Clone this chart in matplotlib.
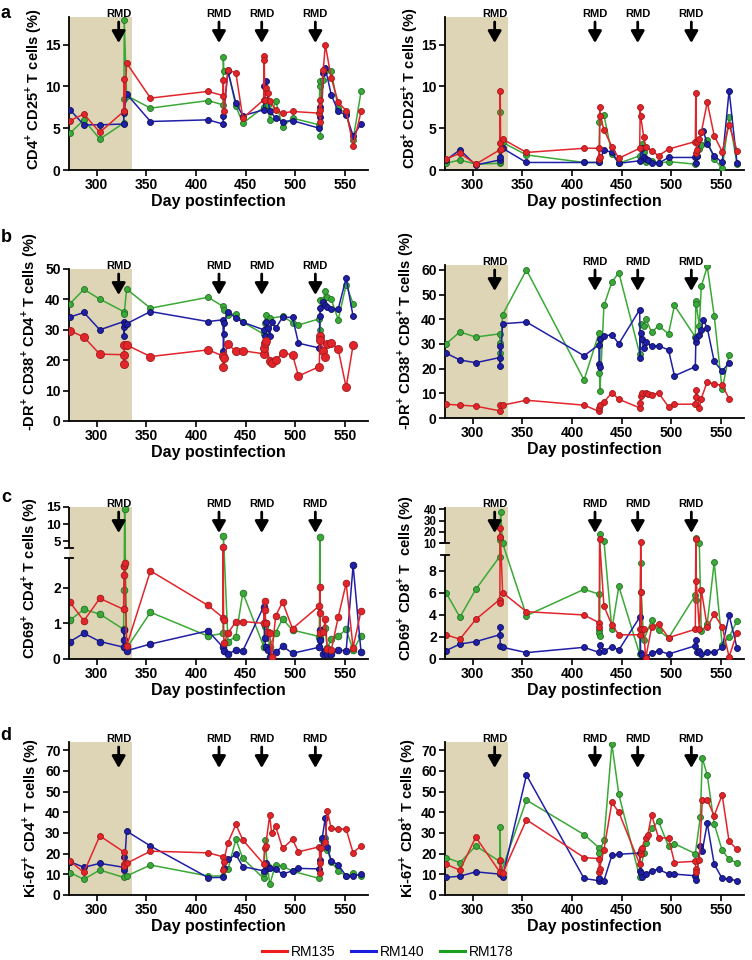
import numpy as np
import matplotlib
matplotlib.use('Agg')
import matplotlib.pyplot as plt
from matplotlib.lines import Line2D
from matplotlib.transforms import offset_copy

plt.rcParams['font.family'] = ['Liberation Sans', 'DejaVu Sans']
plt.rcParams['mathtext.fontset'] = 'custom'
plt.rcParams['mathtext.rm'] = 'Liberation Sans'
plt.rcParams['mathtext.bf'] = 'Liberation Sans:bold'

# ---------------- data (day postinfection, %) ----------------
animals = ['RM135', 'RM140', 'RM178']
rmd_days = [322, 423, 466, 520]
shade_days = (272, 335)
x_ticks = [300, 350, 400, 450, 500, 550]

a_cd4_rm135 = [(273,5.9),(287,6.7),(303,4.5),(327,7.0),(327.4,10.9),(327.8,7.1),(330,12.8),(354,8.6),(412,9.4),
               (427,8.9),(427.4,10.8),(427.8,7.0),(432,12.0),(440,11.6),(447,6.2),(468,8.4),(468.3,13.6),(468.6,13.1),
               (469,8.4),(470,9.8),(472,9.2),(474,8.3),(480,7.2),(487,6.8),(497,7.0),(524,6.8),(524.3,8.4),(524.6,7.2),
               (525,5.8),(528,12.0),(530,15.0),(536,11.0),(543,8.1),(551,7.1),(558,2.9),(566,7.0)]
a_cd4_rm140 = [(273,7.2),(287,5.4),(303,5.4),(327,5.5),(327.4,6.8),(330,9.1),(354,5.8),(412,6.0),(427,5.5),(427.5,6.5),
               (432,11.8),(440,8.0),(447,6.5),(468,7.2),(468.5,10.0),(470,10.6),(474,7.1),(480,6.2),(487,5.8),(497,5.9),
               (524,5.0),(524.5,7.5),(525,6.3),(528,11.6),(530,12.2),(536,9.0),(543,7.0),(551,6.6),(558,4.1),(566,5.5)]
a_cd4_rm178 = [(273,4.4),(287,6.0),(303,3.7),(327,5.6),(327.3,8.5),(327.6,18.0),(330,8.9),(354,7.4),(412,8.3),(427,7.8),
               (427.4,13.5),(427.8,11.8),(432,12.0),(440,7.6),(447,5.6),(468,7.5),(470,8.4),(472,7.8),(474,6.0),(480,8.3),
               (487,5.2),(497,6.2),(524,5.4),(524.3,10.0),(524.6,10.7),(525,4.1),(528,10.8),(530,11.8),(536,11.8),
               (543,7.4),(551,6.8),(558,3.6),(566,9.4)]

a_cd8_rm135 = [(273,1.3),(287,2.0),(303,0.7),(327,2.4),(327.3,3.2),(327.6,9.5),(328,2.5),(330,3.7),(354,2.1),(412,2.6),
               (427,2.6),(427.3,1.3),(427.6,1.6),(428,7.5),(428.5,6.4),(432,4.8),(440,2.8),(447,1.4),(468,2.6),(468.5,7.5),
               (469,6.4),(472,4.0),(474,2.8),(480,2.3),(487,1.7),(497,2.5),(524,3.4),(524.5,9.2),(525,2.0),(525.5,2.4),
               (526,3.4),(528,3.7),(530,4.5),(536,8.1),(543,4.1),(551,2.2),(558,5.4),(566,2.3)]
a_cd8_rm140 = [(273,1.2),(287,2.4),(303,0.6),(327,1.2),(327.5,1.5),(330,2.6),(354,0.9),(412,0.9),(427,0.9),(432,2.4),
               (440,2.1),(447,0.8),(468,1.1),(470,2.6),(472,1.5),(474,1.3),(476,1.2),(480,0.8),(487,0.8),(497,1.5),
               (524,1.5),(524.5,0.8),(526,1.7),(530,4.5),(532,4.7),(536,3.1),(543,1.7),(551,0.9),(558,9.5),(566,0.8)]
a_cd8_rm178 = [(273,0.8),(287,1.2),(303,0.7),(327,0.8),(327.3,6.9),(327.6,0.9),(330,3.3),(354,1.8),(412,0.9),(427,0.9),
               (427.5,5.7),(432,6.6),(440,1.9),(447,0.8),(468,1.7),(470,3.1),(472,2.2),(474,1.0),(480,1.1),(487,0.8),
               (497,1.0),(524,0.7),(526,1.7),(528,2.5),(530,3.0),(536,3.6),(543,1.3),(551,0.2),(558,6.3),(566,0.7)]

b_cd4_rm135 = [(273,29.7),(287,27.6),(303,22.0),(327,21.8),(327.3,18.7),(327.6,25.0),(330,25.0),(354,21.2),(412,23.4),
               (427,21.4),(427.5,17.6),(428,20.7),(432,25.3),(440,22.9),(447,23.1),(468,22.1),(468.5,24.0),(469,25.8),
               (470,26.2),(474,19.9),(476,19.2),(480,20.1),(487,22.3),(497,21.8),(503,14.8),(524,17.9),(524.5,27.8),
               (525,26.7),(528,23.1),(530,21.0),(532,25.4),(536,25.8),(543,23.6),(551,11.1),(558,25.0)]
b_cd4_rm140 = [(273,34.2),(287,35.7),(303,30.0),(327,32.7),(327.3,30.9),(327.6,28.1),(328,32.0),(330,32.0),(354,36.0),
               (412,32.7),(427,33.3),(427.5,23.0),(428,28.5),(428.3,32.3),(432,36.0),(440,33.8),(447,32.5),(468,30.0),
               (469,28.0),(470,32.7),(472,30.5),(474,28.0),(476,32.7),(480,30.5),(487,34.1),(497,34.1),(503,25.6),
               (524,24.0),(524.5,34.4),(525,37.1),(528,39.1),(530,38.2),(532,37.5),(536,36.8),(543,36.8),(551,47.0),
               (558,34.4)]
b_cd4_rm178 = [(273,38.6),(287,43.3),(303,40.1),(327,36.0),(327.5,35.1),(330,43.4),(354,37.1),(412,40.7),(427,37.7),
               (428,36.5),(432,35.0),(440,35.3),(447,32.5),(468,28.6),(469,32.2),(470,35.0),(474,33.8),(487,34.4),
               (497,32.4),(503,31.6),(524,33.6),(524.5,30.0),(525,39.7),(528,39.9),(530,42.9),(532,40.7),(536,40.1),
               (543,33.3),(551,44.8),(558,38.6)]

b_cd8_rm135 = [(273,5.6),(287,5.2),(303,4.8),(327,2.9),(327.5,5.2),(330,5.2),(354,7.2),(412,5.2),(427,2.7),(427.5,4.2),
               (428,5.2),(432,6.5),(440,10.2),(447,7.6),(468,4.1),(468.5,6.1),(469,9.0),(470,10.2),(474,10.3),(476,9.7),
               (480,9.3),(487,10.2),(497,4.5),(503,5.6),(524,5.6),(524.5,8.6),(525,11.3),(528,4.1),(530,7.9),(536,14.7),
               (543,13.7),(551,13.3),(558,7.9)]
b_cd8_rm140 = [(273,26.3),(287,23.5),(303,22.4),(327,24.5),(327.3,29.0),(327.6,21.2),(330,38.2),(354,38.9),(412,25.2),
               (427,29.7),(427.3,21.9),(427.6,20.8),(428,32.1),(432,33.3),(440,33.7),(447,30.1),(468,43.9),(468.5,24.5),
               (469,34.4),(470,32.0),(472,28.3),(474,31.0),(480,29.0),(487,29.3),(497,27.6),(503,17.1),(524,20.8),
               (524.5,30.7),(525,32.4),(528,33.7),(530,35.8),(532,39.9),(536,36.5),(543,22.9),(551,19.0),(558,22.4)]
b_cd8_rm178 = [(273,30.0),(287,34.9),(303,32.8),(327,34.1),(327.3,30.3),(327.6,26.5),(330,41.9),(354,60.0),(412,15.4),
               (427,34.4),(427.5,18.4),(428,10.9),(432,45.6),(440,55.1),(447,58.9),(468,26.0),(469,38.1),(472,37.4),
               (474,40.3),(480,34.7),(487,37.4),(497,34.1),(503,45.6),(524,32.8),(524.5,47.6),(525,46.0),(528,37.4),
               (530,53.3),(536,61.4),(543,41.5),(551,11.6),(558,25.6)]

c_cd4_rm135 = [(273,1.59),(287,1.07),(303,1.7),(327,1.39),(327.3,2.36),(327.6,2.6),(328,2.7),(330,0.36),(354,2.47),
               (412,1.5),(427,1.16),(427.3,3.3),(427.6,1.09),(428,0.44),(432,0.72),(440,1.05),(447,1.05),(468,1.0),
               (469,1.62),(469.5,1.37),(470,1.0),(472,0.75),(474,0.73),(476,0.07),(480,1.2),(487,1.6),(497,0.85),
               (524,1.49),(524.3,1.3),(524.6,2.03),(525,0.74),(528,0.77),(530,1.11),(532,0.27),(536,0.25),(543,1.17),
               (551,2.12),(558,0.32),(566,1.35)]
c_cd4_rm140 = [(273,0.49),(287,0.72),(303,0.49),(327,0.33),(327.3,0.81),(327.6,0.53),(330,0.23),(354,0.42),(412,0.79),
               (427,0.33),(428,0.23),(432,0.14),(440,0.25),(447,0.23),(468,1.47),(469,0.6),(470,0.33),(472,0.25),
               (474,0.05),(480,0.19),(487,0.36),(497,0.16),(524,0.33),(524.5,0.81),(525,0.53),(528,0.14),(530,0.23),
               (532,0.14),(536,0.14),(543,0.25),(551,0.23),(558,2.62),(566,0.19)]
c_cd4_rm178 = [(273,1.09),(287,1.39),(303,1.26),(327,0.83),(327.3,1.93),(327.6,2.6),(328,14.3),(330,0.3),(354,1.31),
               (412,0.64),(427,0.72),(427.5,6.55),(432,0.49),(440,0.63),(447,1.86),(468,0.35),(469,0.93),(470,1.0),
               (474,0.35),(480,0.74),(487,1.12),(497,0.81),(524,0.63),(524.5,6.1),(525,0.6),(530,0.86),(532,0.3),
               (536,0.56),(543,0.64),(551,0.83),(558,0.25),(566,0.64)]

c_cd8_rm135 = [(273,2.2),(287,1.8),(303,3.6),(327,5.4),(327.2,5.1),(327.5,23.2),(327.8,15.9),(330,6.03),(354,4.3),
               (412,4.0),(427,3.3),(427.3,2.9),(427.6,13.5),(432,4.8),(440,3.1),(447,2.2),(468,2.2),(468.5,2.7),
               (469,11.5),(469.5,6.1),(470,2.7),(472,2.7),(474,0.06),(480,2.9),(487,3.2),(497,1.94),(524,2.7),
               (524.5,13.5),(525,7.1),(528,2.7),(530,6.3),(536,2.9),(543,4.06),(551,2.94),(558,0.2),(566,2.4)]
c_cd8_rm140 = [(273,0.76),(287,1.36),(303,1.58),(327,2.2),(327.3,2.9),(327.6,1.2),(330,1.06),(354,0.58),(412,1.06),
               (427,0.6),(428,1.27),(432,0.73),(440,1.12),(447,0.82),(468,3.8),(469,0.52),(470,0.36),(474,0.2),
               (480,0.52),(487,0.76),(497,0.45),(524,1.2),(525,1.73),(525.5,0.67),(528,0.76),(530,0.42),(536,0.6),
               (543,0.6),(551,1.06),(558,4.0),(566,0.97)]
c_cd8_rm178 = [(273,6.03),(287,3.8),(303,6.33),(327,9.3),(327.3,13.0),(327.6,15.9),(328,37.9),(330,10.0),(354,3.94),
               (412,6.33),(427,5.9),(427.3,2.6),(427.5,2.4),(427.7,2.1),(428,18.0),(432,12.0),(440,2.7),(447,6.6),
               (468,0.42),(469,8.76),(469.5,6.1),(472,1.73),(480,3.5),(487,2.6),(497,1.9),(524,5.8),(524.3,5.4),
               (525,14.4),(528,10.0),(530,2.5),(536,3.2),(543,8.8),(551,1.3),(558,2.0),(566,3.45)]

d_cd4_rm135 = [(273,16.4),(287,10.9),(303,28.6),(327,20.9),(327.3,15.0),(327.6,14.0),(330,15.3),(354,21.2),(412,20.4),
               (427,18.5),(427.3,12.1),(427.6,16.1),(432,25.3),(440,34.1),(447,26.6),(468,15.0),(469,22.9),(470,23.7),
               (474,38.6),(476,29.8),(480,33.3),(487,22.5),(497,26.9),(503,20.9),(524,23.3),(524.5,15.3),(525,10.5),
               (526,22.5),(530,25.5),(532,40.7),(536,32.2),(543,31.9),(551,31.9),(558,20.4),(566,23.8)]
d_cd4_rm140 = [(273,16.1),(287,13.4),(303,15.3),(327,13.4),(327.3,18.2),(327.6,12.1),(330,30.9),(354,23.7),(412,8.4),
               (427,8.5),(428,13.0),(432,17.2),(440,19.6),(447,13.7),(468,11.7),(470,15.3),(472,13.0),(474,12.9),
               (480,12.4),(487,10.1),(497,11.7),(503,12.9),(524,12.6),(525,16.9),(527,27.8),(530,37.3),(532,23.3),
               (536,16.6),(543,14.6),(551,9.2),(558,9.2),(566,10.1)]
d_cd4_rm178 = [(273,10.8),(287,7.6),(303,12.1),(327,8.5),(330,9.2),(354,14.5),(412,9.2),(427,9.2),(432,12.4),(440,26.9),
               (447,17.7),(468,8.0),(468.5,10.5),(469,26.6),(472,14.0),(474,5.1),(480,14.5),(487,14.0),(497,11.5),
               (524,8.0),(527,26.6),(530,27.4),(532,22.0),(536,16.1),(543,11.6),(551,9.2),(558,10.5),(566,9.2)]

d_cd8_rm135 = [(273,14.9),(287,12.0),(303,28.0),(327,11.2),(327.5,16.8),(330,10.4),(354,36.4),(412,18.1),(427,17.6),
               (427.3,10.9),(427.6,12.8),(432,21.9),(440,44.8),(447,40.0),(468,14.9),(469,20.0),(469.5,21.9),(470,22.7),
               (474,27.6),(476,28.8),(480,38.7),(487,27.6),(497,27.6),(503,15.7),(524,16.3),(524.5,12.8),(525,10.9),
               (528,17.1),(531,45.9),(536,45.9),(543,38.4),(551,48.4),(558,25.9),(566,22.1)]
d_cd8_rm140 = [(273,8.5),(287,9.1),(303,11.2),(327,10.1),(330,8.8),(354,58.0),(412,8.0),(427,6.9),(427.5,8.0),(432,6.9),
               (440,19.2),(447,19.7),(468,20.3),(468.5,11.7),(469,10.4),(470,8.8),(474,10.1),(480,11.7),(487,12.5),
               (497,10.1),(503,10.1),(524,9.3),(524.5,7.2),(529,23.7),(531,21.3),(536,34.7),(543,14.9),(551,8.0),
               (558,7.7),(566,6.9)]
d_cd8_rm178 = [(273,18.1),(287,15.7),(303,23.7),(327,16.3),(327.5,33.1),(328,10.4),(354,45.9),(412,29.2),(427,22.9),
               (427.5,20.5),(432,26.7),(440,73.0),(447,48.7),(468,8.5),(472,20.3),(474,25.1),(480,32.3),(487,35.6),
               (497,23.5),(503,24.8),(524,20.0),(529,37.6),(531,66.3),(536,58.0),(543,34.4),(551,21.6),(558,17.3),
               (566,15.5)]

ylabels = {
    'a1': r'CD4$^{\mathbf{+}}$ CD25$^{\mathbf{+}}$ T cells (%)',
    'a2': r'CD8$^{\mathbf{+}}$ CD25$^{\mathbf{+}}$ T cells (%)',
    'b1': r'-DR$^{\mathbf{+}}$ CD38$^{\mathbf{+}}$ CD4$^{\mathbf{+}}$ T cells (%)',
    'b2': r'-DR$^{\mathbf{+}}$ CD38$^{\mathbf{+}}$ CD8$^{\mathbf{+}}$ T cells (%)',
    'c1': r'CD69$^{\mathbf{+}}$ CD4$^{\mathbf{+}}$ T cells (%)',
    'c2': r'CD69$^{\mathbf{+}}$ CD8$^{\mathbf{+}}$ T  cells (%)',
    'd1': r'Ki-67$^{\mathbf{+}}$ CD4$^{\mathbf{+}}$ T cells (%)',
    'd2': r'Ki-67$^{\mathbf{+}}$ CD8$^{\mathbf{+}}$ T cells (%)',
}
xlabel = 'Day postinfection'

# ---------------- styling ----------------
colors = {'RM135': '#e3242b', 'RM140': '#1f1fa8', 'RM178': '#3aa935'}
edges = {'RM135': '#9e1a1a', 'RM140': '#0e0e5a', 'RM178': '#22702a'}
legend_colors = {'RM135': '#ee1c1c', 'RM140': '#1c1ce0', 'RM178': '#1e9e1e'}
shade_color = '#ddd5b6'
W, H = 752, 960
fig = plt.figure(figsize=(W / 100, H / 100), dpi=100)


def box(x0, y0, x1, y1):
    return [x0 / W, 1 - y1 / H, (x1 - x0) / W, (y1 - y0) / H]


COLS = [(69, 368), (445, 744)]
XLIM = (272, 573)


def style(ax, tick_size=10):
    for s in ['top', 'right']:
        ax.spines[s].set_visible(False)
    ax.spines['left'].set_linewidth(1.3)
    ax.spines['bottom'].set_linewidth(1.3)
    ax.tick_params(axis='both', direction='out', length=4, width=1.2, labelsize=tick_size, pad=2)
    ax.set_xlim(*XLIM)
    ax.set_xticks(x_ticks)
    for t in ax.get_xticklabels() + ax.get_yticklabels():
        t.set_fontweight('bold')
    ax.set_xlabel(xlabel, fontsize=11.5, fontweight='bold', labelpad=1)


def draw(ax, series, ms=4.3, ms_red=None):
    for name, data in zip(['RM178', 'RM140', 'RM135'], series[::-1]):
        xs = [p[0] for p in data]
        ys = [p[1] for p in data]
        m = ms_red if (name == 'RM135' and ms_red) else ms
        ax.plot(xs, ys, '-o', color=colors[name], lw=1.1, ms=m, mfc=colors[name],
                mec=edges[name], mew=0.6, zorder=3)


def rmd(ax):
    base = ax.get_xaxis_transform()
    tip = offset_copy(base, fig=fig, y=-26, units='dots')
    tail = offset_copy(base, fig=fig, y=-5, units='dots')
    txt = offset_copy(base, fig=fig, y=3, units='dots')
    for d in rmd_days:
        ax.annotate('', xy=(d, 1), xycoords=tip, xytext=(d, 1), textcoords=tail,
                    arrowprops=dict(arrowstyle='-|>,head_length=0.7,head_width=0.4', lw=2.0, color='black',
                                    shrinkA=0, shrinkB=0, mutation_scale=10), annotation_clip=False, zorder=5)
        ax.text(d, 1, 'RMD', transform=txt, ha='center', va='center', fontsize=8, fontweight='bold',
                zorder=6, clip_on=False)


def ylabel(key, x, y):
    fig.text(x / W, 1 - y / H, ylabels[key], rotation=90, ha='center', va='center',
             fontsize=10.5, fontweight='bold')


def piecewise(xs, ys):
    xs = np.asarray(xs, float)
    ys = np.asarray(ys, float)
    s0 = (ys[1] - ys[0]) / (xs[1] - xs[0])
    s1 = (ys[-1] - ys[-2]) / (xs[-1] - xs[-2])

    def f(v):
        v = np.asarray(v, dtype=float)
        shp = v.shape
        v1 = v.ravel()
        out = np.interp(v1, xs, ys)
        m = v1 < xs[0]
        out[m] = ys[0] + (v1[m] - xs[0]) * s0
        m = v1 > xs[-1]
        out[m] = ys[-1] + (v1[m] - xs[-1]) * s1
        return out.reshape(shp)
    return f


# ---------- row a ----------
ya = (17, 170)
for ci, (key, ser) in enumerate([('a1', (a_cd4_rm135, a_cd4_rm140, a_cd4_rm178)),
                                 ('a2', (a_cd8_rm135, a_cd8_rm140, a_cd8_rm178))]):
    ax = fig.add_axes(box(COLS[ci][0], ya[0], COLS[ci][1], ya[1]))
    ax.axvspan(*shade_days, color=shade_color, lw=0, zorder=0)
    draw(ax, ser)
    ax.set_ylim(0, 18.3)
    ax.set_yticks([0, 5, 10, 15])
    style(ax)
    rmd(ax)
ylabel('a1', 34, 89)
ylabel('a2', 410, 88)

# ---------- row b ----------
for ci, (key, ser, yb, ylim, yt, ms_red) in enumerate([
        ('b1', (b_cd4_rm135, b_cd4_rm140, b_cd4_rm178), (269, 421), 50, range(0, 51, 10), 5.8),
        ('b2', (b_cd8_rm135, b_cd8_rm140, b_cd8_rm178), (265, 418), 62, range(0, 61, 10), None)]):
    ax = fig.add_axes(box(COLS[ci][0], yb[0], COLS[ci][1], yb[1]))
    ax.axvspan(*shade_days, color=shade_color, lw=0, zorder=0)
    draw(ax, ser, ms_red=ms_red)
    ax.set_ylim(0, ylim)
    ax.set_yticks(list(yt))
    style(ax)
    rmd(ax)
ylabel('b1', 29, 332)
ylabel('b2', 405, 331)

# ---------- row c (broken y axis, piecewise-linear scale) ----------
# breakpoints: value -> pixel height above the x axis
c_specs = [
    ('c1', (c_cd4_rm135, c_cd4_rm140, c_cd4_rm178), (507, 659),
     [0, 2.83, 3.0, 15.0], [0, 101, 111, 152], [0, 1, 2, 5, 10, 15], (101, 111), 10, 9.5, 4.8),
    ('c2', (c_cd8_rm135, c_cd8_rm140, c_cd8_rm178), (507, 659),
     [0, 9.45, 10.0, 42.0], [0, 104, 115.7, 152], [0, 2, 4, 6, 8, 10, 20, 30, 40], (104, 115.7), 10, 8.3, 4.3),
]
for ci, (key, ser, yb, vals, pix, ticks, brk, big_ts, small_ts, ms) in enumerate(c_specs):
    x0, x1 = COLS[ci]
    ax = fig.add_axes(box(x0, yb[0], x1, yb[1]))
    fwd = piecewise(vals, pix)
    inv = piecewise(pix, vals)
    ax.set_yscale('function', functions=(fwd, inv))
    ax.axvspan(*shade_days, color=shade_color, lw=0, zorder=0)
    draw(ax, ser, ms=ms)
    ax.set_ylim(vals[0], vals[-1])
    ax.set_yticks(ticks)
    ax.yaxis.set_minor_locator(matplotlib.ticker.NullLocator())
    style(ax)
    for t, v in zip(ax.get_yticklabels(), ticks):
        if v > vals[1]:
            t.set_fontsize(small_ts)
    # broken left spine
    ax.spines['left'].set_visible(False)
    htot = pix[-1]
    ax.plot([0, 0], [0, brk[0] / htot], transform=ax.transAxes, color='k', lw=1.3,
            clip_on=False, solid_capstyle='butt', zorder=6)
    ax.plot([0, 0], [brk[1] / htot, 1], transform=ax.transAxes, color='k', lw=1.3,
            clip_on=False, solid_capstyle='butt', zorder=6)
    for yy in brk:
        ax.plot([-0.012, 0.012], [yy / htot, yy / htot], transform=ax.transAxes, color='k', lw=1.3,
                clip_on=False, zorder=6)
    rmd(ax)
ylabel('c1', 30, 578)
ylabel('c2', 406, 578)

# ---------- row d ----------
yd = (742, 895)
for ci, (key, ser) in enumerate([('d1', (d_cd4_rm135, d_cd4_rm140, d_cd4_rm178)),
                                 ('d2', (d_cd8_rm135, d_cd8_rm140, d_cd8_rm178))]):
    ax = fig.add_axes(box(COLS[ci][0], yd[0], COLS[ci][1], yd[1]))
    ax.axvspan(*shade_days, color=shade_color, lw=0, zorder=0)
    draw(ax, ser)
    ax.set_ylim(0, 74)
    ax.set_yticks(range(0, 71, 10))
    style(ax)
    rmd(ax)
ylabel('d1', 31, 818)
ylabel('d2', 407, 818)

# panel letters
for letter, y in zip('abcd', [14, 237, 497, 736]):
    fig.text(6 / W, 1 - y / H, letter, fontsize=13, fontweight='bold', ha='center', va='center')

# legend
handles = [Line2D([0], [0], color=legend_colors[a], lw=2.2) for a in animals]
fig.legend(handles, animals, loc='center', bbox_to_anchor=(388 / W, 1 - 952 / H), ncol=3, frameon=False,
           fontsize=10, handlelength=1.8, handletextpad=0.3, columnspacing=1.1)

fig.savefig('out.png', dpi=100)
